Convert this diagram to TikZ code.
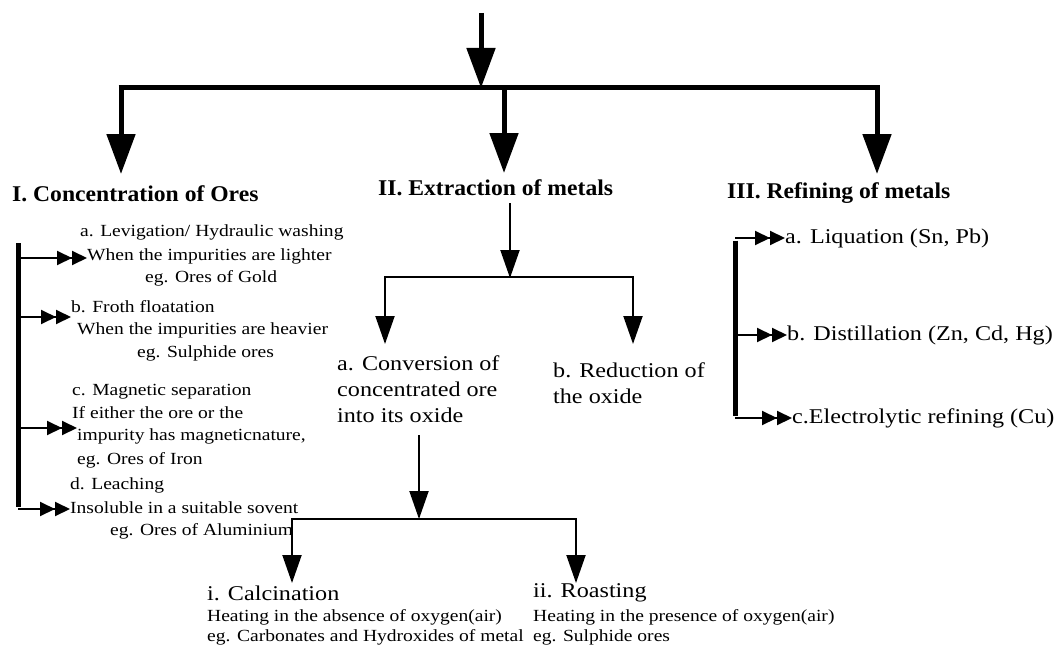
\documentclass[tikz,border=0pt]{standalone}
\usepackage{fontspec}
\setmainfont{Liberation Serif}
\newfontfamily\wf[FakeStretch=1.15]{Liberation Serif}
\newfontfamily\tf[FakeStretch=1.05]{Liberation Serif}
\usetikzlibrary{arrows.meta}
\tikzset{
  sm/.style={font=\wf\fontsize{17}{20}\selectfont, anchor=west, inner sep=0pt},
  md/.style={font=\wf\fontsize{21}{26}\selectfont, anchor=west, inner sep=0pt},
  tt/.style={font=\tf\bfseries\fontsize{22.5}{26}\selectfont, anchor=west, inner sep=0pt},
  thickline/.style={line width=5pt},
  bigarrow/.style={line width=5pt, -{Triangle[length=40pt,width=28pt]}},
  midarrow/.style={line width=2pt, -{Triangle[length=28pt,width=19pt]}},
  dblarrow/.style={line width=2pt, -{Triangle[length=15pt,width=14pt]Triangle[length=15pt,width=14pt]}}
}
\begin{document}
\begin{tikzpicture}[x=1pt,y=-1pt]
\fill[white] (0,0) rectangle (1059,650);
\useasboundingbox (0,0) rectangle (1059,650);

% top level
\coordinate (top) at (481,13);
\coordinate (jtop) at (481,88);
\coordinate (barL) at (121,88);
\coordinate (barM) at (504,88);
\coordinate (barR) at (877,88);
\coordinate (tipL) at (121,174);
\coordinate (tipM) at (504,173);
\coordinate (tipR) at (877,174);
\draw[bigarrow] (top) -- (jtop);
\draw[thickline, line cap=butt] ([xshift=-2.5pt]barL) -- ([xshift=2.5pt]barR);
\draw[bigarrow] (barL) -- (tipL);
\draw[bigarrow] (barM) -- (tipM);
\draw[bigarrow] (barR) -- (tipR);

% titles
\node[tt] (t1) at (12,194) {I. Concentration of Ores};
\node[tt] (t2) at (378,188) {II. Extraction of metals};
\node[tt] (t3) at (727,193) {III. Refining of metals};

% left column
\coordinate (lv0) at (18,243);
\coordinate (lva) at (18,258);
\coordinate (lvb) at (18,317);
\coordinate (lvc) at (18,428);
\coordinate (lvd) at (18,509);
\draw[thickline] (lv0) -- ([yshift=2.5pt]lvd);
\node[sm] (a1) at (80,232) {a. Levigation/ Hydraulic washing};
\node[sm] (a2) at (87,256) {When the impurities are lighter};
\node[sm] (a3) at (145,278) {eg. Ores of Gold};
\node[sm] (b1) at (71,307) {b. Froth floatation};
\node[sm] (b2) at (77,330) {When the impurities are heavier};
\node[sm] (b3) at (137,353) {eg. Sulphide ores};
\node[sm] (c1) at (72,392) {c. Magnetic separation};
\node[sm] (c2) at (72,413) {If either the ore or the};
\node[sm] (c3) at (77,436) {impurity has magneticnature,};
\node[sm] (c4) at (77,460) {eg. Ores of Iron};
\node[sm] (d1) at (70,485) {d. Leaching};
\node[sm] (d2) at (70,508) {Insoluble in a suitable sovent};
\node[sm] (d3) at (110,531) {eg. Ores of Aluminium};
\draw[dblarrow] (lva) -- (lva -| a2.west);
\draw[dblarrow] (lvb) -- (lvb -| b1.west);
\draw[dblarrow] (lvc) -- (lvc -| c3.west);
\draw[dblarrow] (lvd) -- (lvd -| d2.west);

% middle column
\coordinate (ms) at (510,203);
\coordinate (mj) at (510,277);
\coordinate (mL) at (385,277);
\coordinate (mR) at (633,277);
\draw[midarrow] (ms) -- ([yshift=-1pt]mj);
\draw[line width=2pt] ([xshift=-1pt]mL) -- ([xshift=1pt]mR);
\node[md, align=left] (ma) at (337,389) {a. Conversion of\\concentrated ore\\into its oxide};
\node[md, align=left] (mb) at (553,383) {b. Reduction of\\the oxide};
\draw[midarrow] (mL) -- (385,344);
\draw[midarrow] (mR) -- (633,344);

\coordinate (ls) at (419,435);
\coordinate (lj) at (419,519);
\coordinate (lL) at (292,519);
\coordinate (lR) at (576,519);
\draw[midarrow] (ls) -- (lj);
\draw[line width=2pt] ([xshift=-1pt]lL) -- ([xshift=1pt]lR);
\coordinate (ltL) at (292,583);
\coordinate (ltR) at (576,583);
\draw[midarrow] (lL) -- (ltL);
\draw[midarrow] (lR) -- (ltR);

\node[md] (i1) at (207,593) {i. Calcination};
\node[sm] (i2) at (207,617) {Heating in the absence of oxygen(air)};
\node[sm] (i3) at (207,637) {eg. Carbonates and Hydroxides of metal};
\node[md] (r1) at (533,593) {ii. Roasting};
\node[sm] (r2) at (533,617) {Heating in the presence of oxygen(air)};
\node[sm] (r3) at (533,637) {eg. Sulphide ores};

% right column
\coordinate (rva) at (735,238);
\coordinate (rvb) at (735,335);
\coordinate (rvc) at (735,418);
\draw[thickline] ([yshift=-2.5pt]rva) -- ([yshift=2.5pt]rvc);
\node[md] (ra) at (785,238) {a. Liquation (Sn, Pb)};
\node[md] (rb) at (787,335) {b. Distillation (Zn, Cd, Hg)};
\node[md] (rc) at (792,418) {c.Electrolytic refining (Cu)};
\draw[dblarrow] (rva) -- (ra.west);
\draw[dblarrow] (rvb) -- (rb.west);
\draw[dblarrow] (rvc) -- (rc.west);
\end{tikzpicture}
\end{document}
